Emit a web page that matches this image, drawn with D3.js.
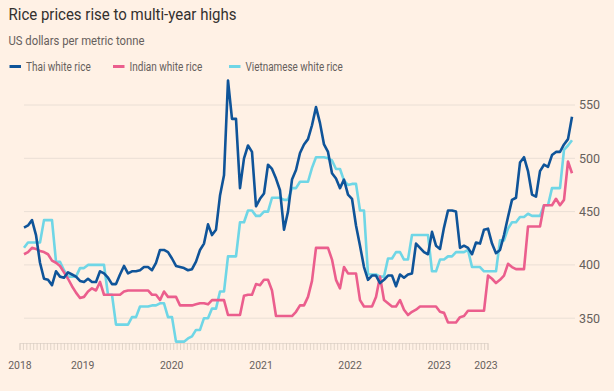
<!DOCTYPE html>
<html><head><meta charset="utf-8">
<script src="https://cdn.jsdelivr.net/npm/d3@7"></script>
<style>
html,body{margin:0;padding:0;background:#fff1e5;}
svg{display:block;}
text{font-family:Roboto,"Noto Sans",sans-serif;}
</style></head><body>
<svg id="chart" width="614" height="391"></svg>
<script>
// ---- data (US$ per tonne at two-week intervals) ----
const seriesNames = ["Thai white rice", "Indian white rice", "Vietnamese white rice"];
const thai = [
  435, 437, 442, 428, 402, 387, 386, 381, 394, 389,
  388, 393, 391, 389, 385, 384, 387, 384, 384, 394,
  392, 388, 382, 382, 391, 399, 392, 394, 394, 395,
  398, 398, 395, 402, 414, 414, 412, 406, 399, 398,
  397, 395, 396, 403, 414, 420, 438, 428, 433, 465,
  484, 573, 537, 537, 472, 500, 512, 506, 455, 462,
  467, 494, 490, 481, 470, 433, 450, 480, 489, 505,
  513, 518, 531, 548, 533, 513, 506, 486, 481, 472,
  480, 466, 462, 437, 418, 398, 386, 390, 390, 383,
  386, 390, 390, 380, 391, 388, 391, 392, 420, 416,
  412, 410, 431, 418, 415, 435, 451, 451, 450, 416,
  418, 416, 410, 421, 420, 433, 434, 420, 411, 414,
  428, 445, 461, 463, 496, 501, 488, 466, 464, 488,
  494, 492, 503, 506, 506, 513, 518, 539
];
const indian = [
  410, 412, 416, 415, 413, 412, 410, 404, 402, 399,
  393, 387, 380, 374, 369, 370, 375, 378, 376, 384,
  372, 372, 372, 372, 372, 375, 376, 376, 376, 376,
  376, 376, 372, 372, 367, 375, 370, 370, 370, 362,
  362, 362, 362, 363, 364, 364, 363, 367, 367, 367,
  367, 353, 353, 353, 353, 371, 372, 372, 382, 381,
  386, 386, 376, 352, 352, 352, 352, 352, 356, 362,
  362, 370, 385, 416, 416, 416, 416, 405, 386, 378,
  398, 392, 392, 392, 367, 361, 361, 361, 370, 389,
  367, 364, 361, 361, 367, 358, 353, 356, 358, 361,
  361, 361, 361, 361, 356, 355, 346, 346, 346, 351,
  352, 357, 357, 357, 357, 357, 390, 387, 383, 386,
  390, 401, 398, 396, 396, 396, 436, 436, 436, 436,
  456, 456, 456, 462, 456, 461, 497, 486
];
const vietnamese = [
  416, 421, 421, 421, 421, 442, 442, 442, 403, 403,
  395, 389, 389, 389, 397, 397, 400, 400, 400, 400,
  400, 372, 372, 344, 344, 344, 344, 351, 351, 361,
  361, 361, 362, 362, 364, 364, 351, 351, 328, 328,
  328, 331, 333, 339, 339, 350, 350, 359, 359, 375,
  375, 408, 408, 408, 440, 440, 451, 451, 446, 446,
  450, 450, 463, 463, 463, 461, 461, 472, 472, 478,
  478, 478, 491, 501, 501, 501, 500, 498, 490, 490,
  479, 475, 476, 476, 451, 451, 391, 391, 391, 389,
  389, 406, 406, 412, 412, 405, 405, 428, 428, 428,
  428, 428, 394, 394, 405, 405, 408, 408, 412, 412,
  412, 414, 398, 398, 398, 394, 394, 394, 394, 423,
  423, 434, 440, 440, 445, 445, 448, 446, 446, 446,
  456, 456, 472, 472, 472, 508, 512, 517
];
const yTicks = [350, 400, 450, 500, 550];
const xTickLabels = ["2018", "2019", "2020", "2021", "2022", "2023", "2023"];
const startDate = new Date(2018, 3, 13);
const stepDays = 14;

// ---- layout ----
const W = 614, H = 391;
const colors = ["#0f5499", "#eb5e8d", "#6fd6e6"];
const svg = d3.select("#chart");
svg.append("rect").attr("width", W).attr("height", H).attr("fill", "#fff1e5");

const dates = thai.map((_, i) => d3.timeDay.offset(startDate, stepDays * i));
const endDate = dates[dates.length - 1];

const x = d3.scaleTime().domain([startDate, endDate]).range([24, 572]);
const xAxisScale = d3.scaleTime().domain([startDate, endDate]).range([19.5, 487.5]);
const y = d3.scaleLinear().domain([350, 550]).range([318.2, 105]);

function fit(sel, w) {
  sel.attr("textLength", w).attr("lengthAdjust", "spacingAndGlyphs");
  return sel;
}

// title & subtitle
fit(svg.append("text").attr("x", 8.5).attr("y", 20).attr("font-size", 16.5)
  .attr("fill", "#33302e").text("Rice prices rise to multi-year highs"), 228);
fit(svg.append("text").attr("x", 8.5).attr("y", 45).attr("font-size", 12.5)
  .attr("fill", "#66605c").text("US dollars per metric tonne"), 136);

// legend
const legendX = [9.5, 113, 229];
const legendW = [64.7, 72.7, 97.3];
seriesNames.forEach((name, i) => {
  svg.append("line").attr("x1", legendX[i]).attr("x2", legendX[i] + 11.5)
    .attr("y1", 66.5).attr("y2", 66.5).attr("stroke", colors[i]).attr("stroke-width", 3);
  fit(svg.append("text").attr("x", legendX[i] + 16.5).attr("y", 71)
    .attr("font-size", 12).attr("fill", "#66605c").text(name), legendW[i]);
});

// gridlines + y labels
const grid = svg.append("g");
yTicks.forEach(v => {
  grid.append("line").attr("x1", 24).attr("x2", 575)
    .attr("y1", y(v)).attr("y2", y(v)).attr("stroke", "#eadfd5").attr("stroke-width", 1);
  grid.append("text").attr("x", 579).attr("y", y(v) + 4.4)
    .attr("font-size", 12.5).attr("fill", "#66605c").text(v);
});

// x axis: small ticks at each data date
const tickAxis = d3.axisBottom(xAxisScale).tickValues(dates).tickSize(7).tickFormat("");
const gx = svg.append("g").attr("transform", "translate(0,343)").call(tickAxis);
gx.select(".domain").attr("stroke", "#e6dad0");
gx.selectAll(".tick line").attr("stroke", "#d9cdc2").attr("stroke-width", 0.8);

// x labels
const labelDates = [startDate, new Date(2019,0,1), new Date(2020,0,1), new Date(2021,0,1),
  new Date(2022,0,1), new Date(2023,0,1), endDate];
const labelAxis = d3.axisBottom(xAxisScale).tickValues(labelDates).tickSize(0)
  .tickFormat((d, i) => xTickLabels[i]);
const gl = svg.append("g").attr("transform", "translate(0,355)").call(labelAxis);
gl.select(".domain").remove();
gl.selectAll("text").attr("font-size", 11.5).attr("fill", "#66605c")
  .attr("font-family", "Roboto, 'Noto Sans', sans-serif")
  .attr("dy", "0.95em")
  .attr("dx", (d, i) => i === 0 ? 0 : (i === labelDates.length - 1 ? -2 : -1.5))
  .attr("textLength", 23.5).attr("lengthAdjust", "spacingAndGlyphs");

// lines
const line = d3.line().x((d, i) => x(dates[i])).y(d => y(d)).curve(d3.curveLinear);
const order = [2, 1, 0];
const allSeries = [thai, indian, vietnamese];
order.forEach(k => {
  svg.append("path").datum(allSeries[k]).attr("d", line)
    .attr("fill", "none").attr("stroke", colors[k]).attr("stroke-width", 2.6)
    .attr("stroke-linejoin", "round").attr("stroke-linecap", "butt");
});
</script>
</body></html>
